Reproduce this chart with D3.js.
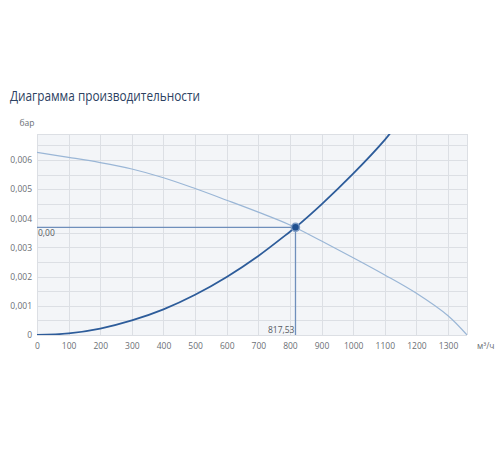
<!DOCTYPE html>
<html><head><meta charset="utf-8">
<script src="https://cdn.jsdelivr.net/npm/d3@7"></script>
<style>body{margin:0;background:#fff;}svg{display:block;font-family:"Open Sans",sans-serif;}</style>
</head><body>
<svg id="c" width="500" height="450"></svg>
<script>
const title = "Диаграмма производительности";
const yUnit = "бар";
const xUnit = "м³/ч";
const xTicks = [0,100,200,300,400,500,600,700,800,900,1000,1100,1200,1300];
const yTicks = [0,0.001,0.002,0.003,0.004,0.005,0.006];
const yMinor = [0.0005,0.0015,0.0025,0.0035,0.0045,0.0055,0.0065];
// pump (performance) curve
const pumpFlow = [0,100,200,300,400,500,600,700,800,900,1000,1100,1200,1300,1360];
const pumpPress = [0.00626,0.00609,0.00591,0.00569,0.00539,0.00502,0.00462,0.00421,0.00377,0.00322,0.00265,0.00206,0.00143,0.00066,0];
// system (network) curve
const sysFlow = [0,100,200,300,400,500,600,700,800,817.53,900,1000,1100,1130];
const sysPress = [0,0.000055,0.00022,0.00050,0.00088,0.00138,0.00199,0.00271,0.00354,0.00369,0.00448,0.00553,0.00669,0.0071];
const opFlow = 817.53;
const opPress = 0.00369;
const opLabelX = "817,53";
const opLabelY = "0,00";

const svg = d3.select("#c");
const L=37,R=467,T=134,B=335;
const x = d3.scaleLinear().domain([0,1360]).range([L,R]);
const y = d3.scaleLinear().domain([0,0.00689]).range([B,T]);
const fmt = v => v===0 ? "0" : d3.format(".3f")(v).replace(".",",");

svg.append("defs").append("clipPath").attr("id","clip").append("rect")
  .attr("x",L).attr("y",T).attr("width",R-L).attr("height",B-T);

svg.append("text").attr("x",10).attr("y",101).text(title)
  .attr("font-size",14.5).attr("fill","#2c4262")
  .attr("textLength",190).attr("lengthAdjust","spacingAndGlyphs");

svg.append("rect").attr("x",L).attr("y",T).attr("width",R-L).attr("height",B-T).attr("fill","#f3f5f8");

const grid = svg.append("g").attr("stroke","#dcdfe4").attr("stroke-width",1);
xTicks.concat([1360]).forEach(v=>grid.append("line").attr("x1",Math.round(x(v))+0.5).attr("x2",Math.round(x(v))+0.5).attr("y1",T).attr("y2",B));
yTicks.concat(yMinor,[0.00689]).forEach(v=>grid.append("line").attr("x1",L).attr("x2",R).attr("y1",Math.round(y(v))+0.5).attr("y2",Math.round(y(v))+0.5));
grid.append("line").attr("x1",L+0.5).attr("x2",L+0.5).attr("y1",T).attr("y2",B);

// axes
const xa = svg.append("g").attr("transform",`translate(0,${B})`)
  .call(d3.axisBottom(x).tickValues(xTicks).tickSize(0).tickPadding(8).tickFormat(d3.format("d")));
const ya = svg.append("g").attr("transform",`translate(${L},0)`)
  .call(d3.axisLeft(y).tickValues(yTicks).tickSize(0).tickPadding(5).tickFormat(fmt));
[xa,ya].forEach(a=>{a.select(".domain").remove();a.selectAll("text").attr("font-size",8.5).attr("fill","#6b6f75").attr("font-family","Open Sans, sans-serif");});

svg.append("text").attr("x",27).attr("y",126).attr("text-anchor","middle").attr("font-size",8.5).attr("fill","#6b6f75").text(yUnit);
svg.append("text").attr("x",477).attr("y",349).attr("font-size",8.5).attr("fill","#6b6f75").text(xUnit);

const line = d3.line().x(d=>x(d[0])).y(d=>y(d[1])).curve(d3.curveCatmullRom.alpha(0.5));
const plot = svg.append("g").attr("clip-path","url(#clip)");
plot.append("path").datum(pumpFlow.map((f,i)=>[f,pumpPress[i]])).attr("d",line)
  .attr("fill","none").attr("stroke","#9ab6d6").attr("stroke-width",1.2);
plot.append("path").datum(sysFlow.map((f,i)=>[f,sysPress[i]])).attr("d",line)
  .attr("fill","none").attr("stroke","#2d5c9a").attr("stroke-width",1.8);

// operating point guides
svg.append("line").attr("x1",L).attr("x2",x(opFlow)).attr("y1",y(opPress)).attr("y2",y(opPress))
  .attr("stroke","#6f8fbb").attr("stroke-width",1.3);
svg.append("line").attr("x1",x(opFlow)).attr("x2",x(opFlow)).attr("y1",y(opPress)).attr("y2",B)
  .attr("stroke","#6f8fbb").attr("stroke-width",1.3);
svg.append("text").attr("x",L+1).attr("y",y(opPress)+9).attr("font-size",8.5).attr("fill","#55595f").text(opLabelY);
svg.append("text").attr("x",x(opFlow)-1).attr("y",B-2).attr("text-anchor","end").attr("font-size",8.5).attr("fill","#55595f").text(opLabelX);
svg.append("circle").attr("cx",x(opFlow)).attr("cy",y(opPress)).attr("r",4)
  .attr("fill","#1f4f8f").attr("stroke","#7f9cc4").attr("stroke-width",1.5);
</script>
</body></html>
